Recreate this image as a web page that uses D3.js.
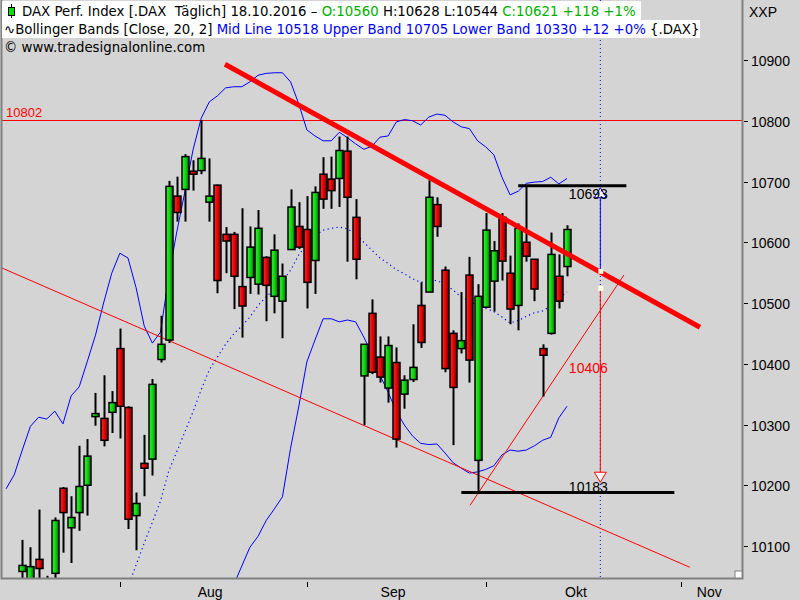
<!DOCTYPE html>
<html><head><meta charset="utf-8">
<script src="https://cdn.jsdelivr.net/npm/d3@7"></script>
<style>html,body{margin:0;padding:0;background:#d4d4d4;}svg{display:block;}text{white-space:pre;}</style>
</head><body>
<script>
// ---- data (candle index 0 = first visible candle) ----
const opens  = [10058,10030,10078,10035,10055,10195,10130,10155,10200,10313,10310,10320,10425,10328,10150,10236,10243,10407,10439,10676,10687,10717,10718,10666,10694,10613,10613,10527,10542,10531,10575,10511,10503,10588,10626,10621,10570,10712,10704,10705,10750,10641,10380,10483,10411,10360,10402,10350,10374,10496,10518,10662,10554,10450,10425,10546,10241,10493,10536,10641,10549,10496,10600,10572,10425,10450,10544,10560];
const highs  = [10110,10098,10160,10051,10147,10197,10182,10265,10276,10352,10381,10355,10458,10330,10188,10283,10375,10479,10701,10708,10745,10735,10801,10738,10695,10625,10617,10656,10626,10653,10577,10613,10565,10687,10666,10676,10692,10740,10741,10774,10774,10671,10432,10506,10445,10445,10427,10381,10465,10534,10702,10674,10560,10455,10518,10576,10531,10648,10602,10648,10578,10631,10692,10572,10432,10616,10580,10628];
const lows   = [10030,10010,10040,9970,10040,10089,10072,10125,10150,10298,10264,10286,10277,10128,10093,10182,10216,10402,10434,10634,10634,10685,10712,10634,10516,10549,10490,10443,10515,10514,10470,10483,10442,10589,10589,10491,10515,10655,10655,10658,10568,10539,10299,10383,10369,10336,10262,10326,10370,10426,10518,10609,10386,10266,10417,10369,10188,10493,10486,10537,10465,10455,10568,10503,10346,10448,10491,10544];
const closes = [10068,10066,10063,9985,10142,10155,10147,10198,10248,10318,10274,10336,10330,10144,10170,10228,10366,10432,10692,10649,10741,10712,10738,10676,10537,10602,10544,10495,10592,10623,10529,10587,10544,10658,10592,10534,10682,10671,10685,10751,10674,10572,10432,10386,10378,10430,10276,10373,10394,10435,10674,10626,10392,10361,10438,10406,10511,10620,10586,10569,10490,10623,10577,10523,10414,10580,10503,10621];
// Bollinger bands (20, 2); index offset bandStart
const bandStart = -2;
const upperBand = [10194,10217,10258,10297,10312,10309,10322,10301,10347,10362,10404,10447,10500,10549,10582,10574,10525,10462,10434,10452,10543,10617,10683,10752,10804,10831,10841,10854,10856,10856,10864,10875,10878,10879,10879,10864,10828,10785,10775,10767,10767,10781,10772,10762,10753,10758,10773,10775,10798,10802,10800,10793,10806,10811,10809,10798,10790,10787,10767,10757,10744,10707,10678,10684,10697,10699,10700,10707,10696,10705];
const midStart = 13;
const midLine = [10032,10069,10105,10139,10174,10223,10255,10288,10321,10357,10390,10411,10432,10449,10462,10477,10496,10510,10523,10536,10554,10579,10597,10611,10620,10623,10625,10622,10614,10600,10587,10574,10565,10555,10548,10540,10534,10537,10537,10531,10521,10510,10503,10496,10491,10486,10477,10467,10471,10478,10484,10487,10495,10508,10518];
const lowStart = 25;
const lowerBand = [10011,10036,10067,10098,10116,10142,10161,10181,10261,10329,10403,10439,10474,10474,10469,10472,10469,10444,10416,10381,10353,10322,10299,10281,10269,10267,10268,10253,10237,10228,10220,10222,10226,10232,10250,10258,10256,10258,10265,10274,10279,10311,10330];
// axis
const priceTicks = [10100,10200,10300,10400,10500,10600,10700,10800,10900];
const monthTickIdx = [12,35,57,81];
const monthLabels = ["Aug","Sep","Okt","Nov"];
const monthLabelIdx = [23.1,45.6,68.1,84.5];
// drawing tools: [index, price]
const hLine10802 = 10802;
const trendThick = [[24.93,10893],[83.35,10460]];
const channelLow = [[-2.74,10559],[82.1,10065]];
const riseLine = [[55.07,10167],[74.0,10546]];
const level10693 = {from:61, to:74.3, price:10693, label:"10693"};
const level10183 = {from:54, to:80.2, price:10188, label:"10183"};
const measureIdx = 71.1;

const W=800,H=600, plotR=743, plotB=579;
const svg=d3.select("body").append("svg").attr("width",W).attr("height",H);
svg.append("rect").attr("width",W).attr("height",H).attr("fill","#d4d4d4");
const x=d3.scaleLinear().domain([0,67]).range([22.3,567]);
const y=d3.scaleLinear().domain([10100,10900]).range([546,60]);

const defs=svg.append("defs");
defs.append("clipPath").attr("id","clip").append("rect").attr("x",1).attr("y",0).attr("width",plotR-1).attr("height",plotB);
function grad(id,c0,c1,c2){const g=defs.append("linearGradient").attr("id",id).attr("x1","0%").attr("x2","100%");
 g.append("stop").attr("offset","0%").attr("stop-color",c0);g.append("stop").attr("offset","55%").attr("stop-color",c1);g.append("stop").attr("offset","100%").attr("stop-color",c2);}
grad("gUp","#30f030","#10d010","#006000");
grad("gDn","#ff2a2a","#e00000","#6a0000");

// plot frame
svg.append("rect").attr("x",1).attr("y",0).attr("width",plotR-1).attr("height",plotB).attr("fill","#d4d4d4");
const g=svg.append("g").attr("clip-path","url(#clip)");

// horizontal 10802
g.append("line").attr("x1",0).attr("x2",plotR).attr("y1",Math.round(y(hLine10802))+0.5).attr("y2",Math.round(y(hLine10802))+0.5).attr("stroke","#ff0000").attr("stroke-width",1);
g.append("text").attr("x",6).attr("y",y(hLine10802)-3).attr("fill","#ff0000").attr("font-family","Liberation Sans, Arial").attr("font-size",13).text("10802");

// measurement dotted vertical
g.append("line").attr("x1",x(measureIdx)).attr("x2",x(measureIdx)).attr("y1",0).attr("y2",plotB).attr("stroke","#0000ff").attr("stroke-dasharray","1,3");

// bollinger
const lineGen=(start)=>d3.line().x((d,i)=>x(i+start)).y(d=>y(d));
g.append("path").datum(upperBand).attr("d",lineGen(bandStart)).attr("fill","none").attr("stroke","#0000ff").attr("stroke-width",1);
g.append("path").datum(lowerBand).attr("d",lineGen(lowStart)).attr("fill","none").attr("stroke","#0000ff").attr("stroke-width",1);
g.append("path").datum(midLine).attr("d",lineGen(midStart)).attr("fill","none").attr("stroke","#0000ff").attr("stroke-width",1.2).attr("stroke-dasharray","1.2,3.3");

// thin red tool lines
[channelLow,riseLine].forEach(l=>g.append("line").attr("x1",x(l[0][0])).attr("y1",y(l[0][1])).attr("x2",x(l[1][0])).attr("y2",y(l[1][1])).attr("stroke","#ff0000").attr("stroke-width",1));

// candles
const idx=d3.range(opens.length);
const cg=g.append("g");
cg.selectAll("line.w").data(idx).join("line").attr("x1",i=>Math.round(x(i))+0.5).attr("x2",i=>Math.round(x(i))+0.5)
 .attr("y1",i=>y(highs[i])).attr("y2",i=>y(lows[i])).attr("stroke","#000").attr("stroke-width",2);
cg.selectAll("rect.b").data(idx).join("rect").attr("x",i=>Math.round(x(i))-3).attr("width",7)
 .attr("y",i=>y(Math.max(opens[i],closes[i]))).attr("height",i=>Math.max(2,Math.abs(y(opens[i])-y(closes[i]))))
 .attr("fill",i=>closes[i]>=opens[i]?"url(#gUp)":"url(#gDn)").attr("stroke","#000").attr("stroke-width",1.5);

// thick trend
g.append("line").attr("x1",x(trendThick[0][0])).attr("y1",y(trendThick[0][1])).attr("x2",x(trendThick[1][0])).attr("y2",y(trendThick[1][1])).attr("stroke","#ff0000").attr("stroke-width",5);

// levels
[level10693,level10183].forEach(l=>{
 g.append("line").attr("x1",x(l.from)).attr("x2",x(l.to)).attr("y1",y(l.price)).attr("y2",y(l.price)).attr("stroke","#000").attr("stroke-width",3);
});
// measurement tool
const mx=x(measureIdx);
g.append("line").attr("x1",mx).attr("x2",mx).attr("y1",y(10693)+8).attr("y2",y(10555)).attr("stroke","#0000ff").attr("stroke-width",1);
g.append("line").attr("x1",mx).attr("x2",mx).attr("y1",y(10525)).attr("y2",y(10205)).attr("stroke","#ff0000").attr("stroke-width",1);
g.append("rect").attr("x",mx-2).attr("y",y(10553)-2).attr("width",5).attr("height",5).attr("fill","#ffffe0");
g.append("rect").attr("x",mx-2).attr("y",y(10525)-2).attr("width",5).attr("height",5).attr("fill","#ffffe0");
g.append("path").attr("d",`M${mx-6},${y(10693)+12}L${mx+6},${y(10693)+12}L${mx},${y(10693)+2}Z`).attr("fill","#fff").attr("stroke","#0000ff");
g.append("path").attr("d",`M${mx-6},${y(10205)-10}L${mx+6},${y(10205)-10}L${mx},${y(10205)}Z`).attr("fill","#fff").attr("stroke","#ff0000");
const lf="Liberation Sans, Arial";
g.append("text").attr("x",mx-12).attr("y",y(10693)+13).attr("text-anchor","middle").attr("font-family",lf).attr("font-size",14).attr("fill","#000").text(level10693.label);
g.append("text").attr("x",mx-12).attr("y",y(10183)-4).attr("text-anchor","middle").attr("font-family",lf).attr("font-size",14).attr("fill","#000").text(level10183.label);
g.append("text").attr("x",mx-12).attr("y",y(10395)+6).attr("text-anchor","middle").attr("font-family",lf).attr("font-size",14).attr("fill","#ff0000").text("10406");

// frame border
svg.append("path").attr("d",`M1.5,0V${plotB-0.5}H${plotR-0.5}V0`).attr("fill","none").attr("stroke","#808080").attr("stroke-width",2);
svg.append("rect").attr("x",plotR-8).attr("y",plotB-8).attr("width",7).attr("height",7).attr("fill","#fff").attr("stroke","#808080");

// right axis
const ra=svg.append("g");
priceTicks.forEach(p=>{const yy=Math.round(y(p))+0.5;
 ra.append("line").attr("x1",plotR+1).attr("x2",plotR+5).attr("y1",yy).attr("y2",yy).attr("stroke","#000");
 ra.append("text").attr("x",plotR+8).attr("y",yy+5).attr("font-family",lf).attr("font-size",14).attr("fill","#000").text(p);});
ra.append("text").attr("x",plotR+6).attr("y",17).attr("font-family",lf).attr("font-size",14).text("XXP");
// bottom axis
monthTickIdx.forEach(i=>svg.append("line").attr("x1",Math.round(x(i))+0.5).attr("x2",Math.round(x(i))+0.5).attr("y1",plotB+3).attr("y2",plotB+8).attr("stroke","#000"));
monthLabels.forEach((m,k)=>svg.append("text").attr("x",x(monthLabelIdx[k])).attr("y",597).attr("text-anchor","middle").attr("font-family",lf).attr("font-size",14).text(m));

// header
const hf="DejaVu Sans, Verdana";
svg.append("rect").attr("x",2).attr("y",1).attr("width",639).attr("height",19).attr("fill","#fff");
svg.append("rect").attr("x",2).attr("y",20).attr("width",698).attr("height",18).attr("fill","#fff");
svg.append("line").attr("x1",11.5).attr("x2",11.5).attr("y1",4).attr("y2",18).attr("stroke","#000");
svg.append("rect").attr("x",8.5).attr("y",7.5).attr("width",6).attr("height",8).attr("fill","#00e000").attr("stroke","#000");
const t1=svg.append("text").attr("x",22).attr("y",15.5).attr("font-family",hf).attr("font-size",13.3);
t1.append("tspan").attr("fill","#000").text("DAX Perf. Index [.DAX  Täglich] 18.10.2016 – ");
t1.append("tspan").attr("fill","#00b000").text("O:10560");
t1.append("tspan").attr("fill","#000").text(" H:10628 L:10544 ");
t1.append("tspan").attr("fill","#00b000").text("C:10621 +118 +1%");
const t2=svg.append("text").attr("x",4).attr("y",34).attr("font-family",hf).attr("font-size",13.3);
t2.append("tspan").attr("fill","#000").text("∿Bollinger Bands [Close, 20, 2] ");
t2.append("tspan").attr("fill","#0000ff").text("Mid Line 10518 Upper Band 10705 Lower Band 10330 +12 +0%");
t2.append("tspan").attr("fill","#000").text(" {.DAX}");
svg.append("text").attr("x",4).attr("y",52).attr("font-family",hf).attr("font-size",13.3).attr("fill","#000").text("© www.tradesignalonline.com");
</script>
</body></html>
